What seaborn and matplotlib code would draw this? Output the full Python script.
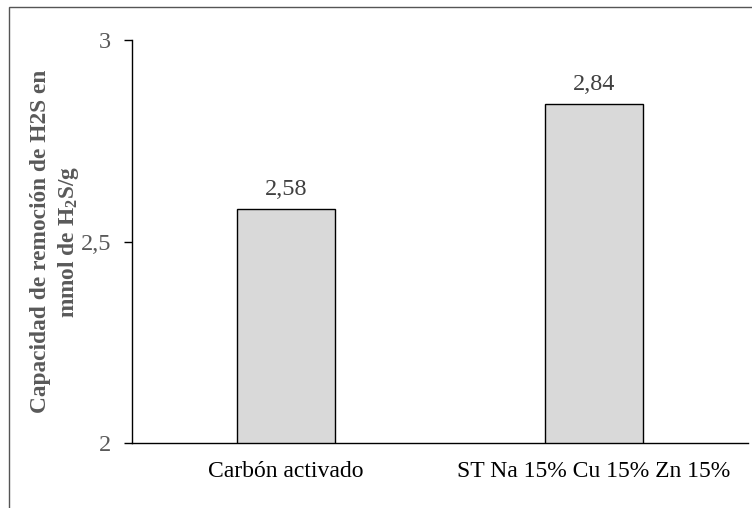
import matplotlib
matplotlib.use("Agg")
import matplotlib.pyplot as plt
import seaborn as sns
import pandas as pd
from matplotlib.patches import Rectangle

categories = ["Carbón activado", "ST Na 15% Cu 15% Zn 15%"]
values = [2.58, 2.84]
yticks = [2, 2.5, 3]
ytick_labels = ["2", "2,5", "3"]

sns.set_theme(style="white")
plt.rcParams['font.family'] = ['Liberation Serif', 'DejaVu Serif']
plt.rcParams['mathtext.fontset'] = 'custom'
plt.rcParams['mathtext.rm'] = 'Liberation Serif'
plt.rcParams['mathtext.bf'] = 'Liberation Serif:bold'

df = pd.DataFrame({"cat": categories, "val": values})

fig = plt.figure(figsize=(7.52, 5.08), dpi=100)
ax = fig.add_axes([132/752, 65/508, 616/752, 403/508])

sns.barplot(data=df, x="cat", y="val", color="#d9d9d9", edgecolor="black",
            linewidth=1.0, width=0.315, ax=ax, saturation=1)

ax.set_ylim(2, 3)
ax.set_xlim(-0.5, 1.5)
ax.set_yticks(yticks)
ax.set_yticklabels(ytick_labels)
ax.tick_params(axis='y', which='both', direction='out', length=6, width=1.0,
               colors='black', labelcolor='#595959', labelsize=17.5, left=True, pad=9)
ax.tick_params(axis='x', length=0, labelsize=17, labelcolor='black', pad=13)

for s in ['top', 'right']:
    ax.spines[s].set_visible(False)
for s in ['left', 'bottom']:
    ax.spines[s].set_color('black')
    ax.spines[s].set_linewidth(1.0)

ax.set_xlabel("")
ax.set_ylabel("Capacidad de remoción de H2S en\nmmol de H$_\\mathbf{2}$S/g",
              fontsize=16.8, fontweight='bold', color='#595959', labelpad=0,
              linespacing=1.25)

labels = [f"{v:.2f}".replace(".", ",") for v in values]
ax.bar_label(ax.containers[0], labels=labels, padding=7, fontsize=17.5, color='#404040')

fig.patches.append(Rectangle((9/752, -0.1), 1.2, 1.1 - 7/508,
                             transform=fig.transFigure, fill=False,
                             edgecolor='#555555', linewidth=1.0))

fig.savefig("out.png", dpi=100)
